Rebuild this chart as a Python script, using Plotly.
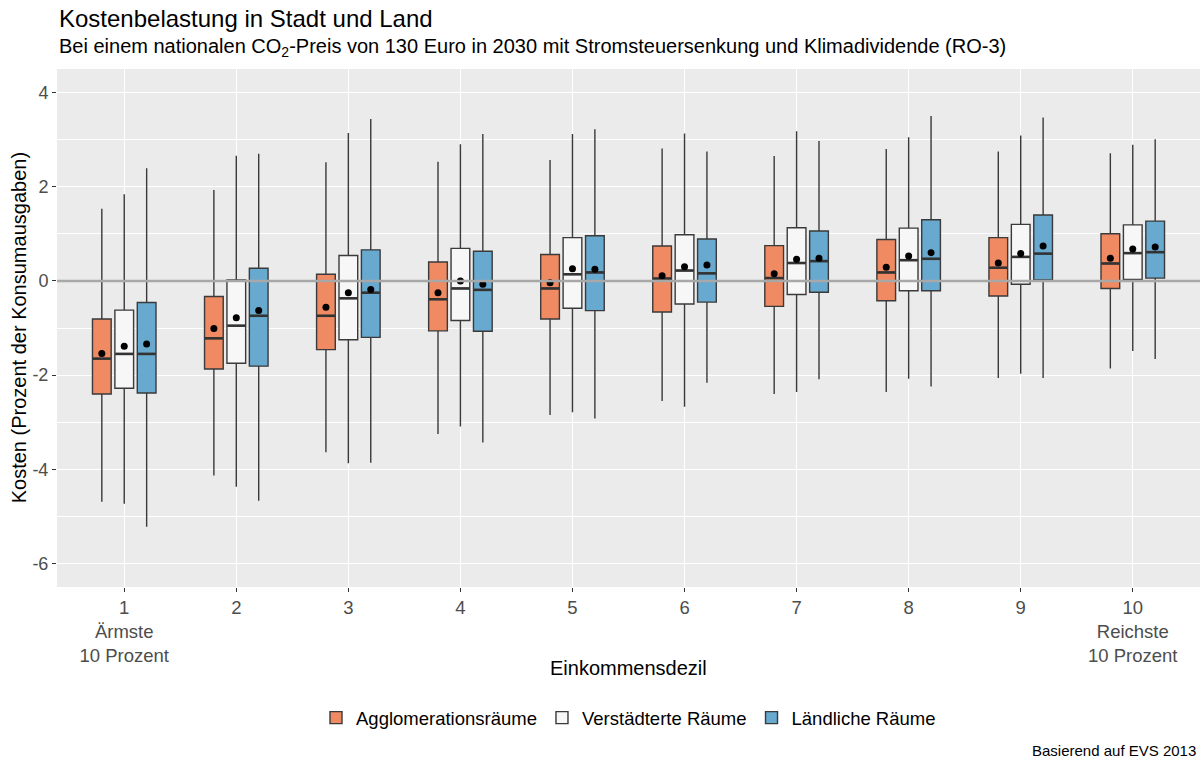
import plotly.graph_objects as go

deciles = [1, 2, 3, 4, 5, 6, 7, 8, 9, 10]
tick_labels = ["1<br>Ärmste<br>10 Prozent", "2", "3", "4", "5", "6", "7", "8", "9",
               "10<br>Reichste<br>10 Prozent"]
y_ticks = [-6, -4, -2, 0, 2, 4]
y_tick_labels = ["-6", "-4", "-2", "0", "2", "4"]
groups = ["Agglomerationsräume", "Verstädterte Räume", "Ländliche Räume"]

# Agglomerationsräume
agg_hi = [1.53, 1.93, 2.52, 2.53, 2.57, 2.81, 2.65, 2.80, 2.75, 2.71]
agg_q3 = [-0.81, -0.33, 0.14, 0.40, 0.56, 0.74, 0.75, 0.88, 0.92, 1.00]
agg_med = [-1.65, -1.22, -0.74, -0.39, -0.16, 0.05, 0.06, 0.18, 0.28, 0.37]
agg_mean = [-1.54, -1.01, -0.56, -0.25, -0.04, 0.11, 0.15, 0.29, 0.38, 0.48]
agg_q1 = [-2.40, -1.87, -1.46, -1.06, -0.81, -0.66, -0.54, -0.42, -0.32, -0.16]
agg_lo = [-4.69, -4.13, -3.64, -3.25, -2.85, -2.55, -2.40, -2.36, -2.06, -1.86]

# Verstädterte Räume
vst_hi = [1.84, 2.66, 3.14, 2.90, 3.12, 3.13, 3.18, 3.05, 3.09, 2.89]
vst_q3 = [-0.62, 0.02, 0.54, 0.69, 0.92, 0.98, 1.13, 1.12, 1.20, 1.19]
vst_med = [-1.55, -0.95, -0.37, -0.16, 0.14, 0.22, 0.38, 0.44, 0.51, 0.59]
vst_mean = [-1.39, -0.78, -0.25, 0.00, 0.26, 0.30, 0.46, 0.53, 0.58, 0.68]
vst_q1 = [-2.28, -1.75, -1.25, -0.84, -0.58, -0.49, -0.29, -0.21, -0.07, 0.03]
vst_lo = [-4.73, -4.37, -3.87, -3.09, -2.79, -2.67, -2.36, -2.08, -1.97, -1.49]

# Ländliche Räume
lnd_hi = [2.39, 2.70, 3.44, 3.12, 3.22, 2.75, 2.97, 3.50, 3.47, 3.01]
lnd_q3 = [-0.46, 0.27, 0.66, 0.63, 0.96, 0.89, 1.06, 1.30, 1.40, 1.27]
lnd_med = [-1.55, -0.74, -0.25, -0.19, 0.18, 0.16, 0.42, 0.47, 0.58, 0.61]
lnd_mean = [-1.34, -0.63, -0.18, -0.07, 0.25, 0.34, 0.48, 0.60, 0.74, 0.72]
lnd_q1 = [-2.38, -1.81, -1.20, -1.07, -0.63, -0.45, -0.24, -0.21, 0.02, 0.06]
lnd_lo = [-5.22, -4.67, -3.86, -3.43, -2.92, -2.16, -2.09, -2.24, -2.06, -1.66]

colors = ["#EF8A62", "#F7F7F7", "#67A9CF"]
stats = [
    (agg_q1, agg_med, agg_q3, agg_lo, agg_hi, agg_mean),
    (vst_q1, vst_med, vst_q3, vst_lo, vst_hi, vst_mean),
    (lnd_q1, lnd_med, lnd_q3, lnd_lo, lnd_hi, lnd_mean),
]
dodge = 0.2
box_w = 0.167
font = "Liberation Sans, Arial, sans-serif"

fig = go.Figure()
for i, (name, col, s) in enumerate(zip(groups, colors, stats)):
    q1, med, q3, lo, hi, mean = s
    xs = [d + (i - 1) * dodge for d in deciles]
    fig.add_trace(go.Box(
        x=xs, q1=q1, median=med, q3=q3, lowerfence=lo, upperfence=hi,
        name=name, width=box_w, whiskerwidth=0,
        fillcolor=col, line=dict(color="#3a3a3a", width=1.4),
        legendgroup=name,
    ))
    # dickere Medianlinie wie bei ggplot
    fig.add_trace(go.Scatter(
        x=xs, y=med, mode="markers",
        marker=dict(symbol="line-ew", size=12.8, line=dict(color="#333333", width=2.6)),
        showlegend=False, legendgroup=name, hoverinfo="skip",
    ))
    fig.add_trace(go.Scatter(
        x=xs, y=mean, mode="markers",
        marker=dict(color="black", size=7),
        showlegend=False, legendgroup=name, hoverinfo="skip",
    ))

# Nulllinie über den Boxen
fig.add_shape(type="line", xref="paper", x0=0, x1=1, y0=0, y1=0,
              line=dict(color="#A8A8A8", width=2.5), layer="above")

fig.update_layout(
    width=1203, height=763,
    margin=dict(l=57, r=3, t=69, b=176),
    plot_bgcolor="#EBEBEB", paper_bgcolor="white",
    font=dict(family=font, color="black"),
    showlegend=True,
    legend=dict(orientation="h", x=0.5, xanchor="center", y=-0.253, yanchor="middle",
                font=dict(size=18.5, color="black"), itemwidth=30),
    xaxis=dict(range=[0.4, 10.6], tickvals=deciles, ticktext=tick_labels,
               showgrid=True, gridcolor="white", gridwidth=1.2, zeroline=False,
               ticks="outside", ticklen=4, tickcolor="#333333",
               tickfont=dict(size=18.5, color="#4D4D4D")),
    yaxis=dict(range=[-6.5, 4.5], tickvals=y_ticks, ticktext=y_tick_labels,
               showgrid=True, gridcolor="white", gridwidth=1.2, zeroline=False,
               minor=dict(tickvals=[-5, -3, -1, 1, 3], showgrid=True,
                          gridcolor="white", gridwidth=0.6),
               ticks="outside", ticklen=4, tickcolor="#333333",
               tickfont=dict(size=18, color="#4D4D4D")),
    annotations=[
        dict(text="Kostenbelastung in Stadt und Land", xref="paper", yref="paper",
             x=0, y=1.098, xanchor="left", yanchor="middle", showarrow=False,
             font=dict(size=24)),
        dict(text="Bei einem nationalen CO<sub>2</sub>-Preis von 130 Euro in 2030 mit "
                  "Stromsteuersenkung und Klimadividende (RO-3)",
             xref="paper", yref="paper", x=0, y=1.042, xanchor="left", yanchor="middle",
             showarrow=False, font=dict(size=20)),
        dict(text="Einkommensdezil", xref="paper", yref="paper", x=0.5, y=-0.157,
             xanchor="center", yanchor="middle", showarrow=False, font=dict(size=20)),
        dict(text="Kosten (Prozent der Konsumausgaben)", xref="paper", yref="paper",
             x=-0.033, y=0.5, xanchor="center", yanchor="middle", textangle=-90,
             showarrow=False, font=dict(size=20)),
        dict(text="Basierend auf EVS 2013", xref="paper", yref="paper", x=0.998,
             y=-0.315, xanchor="right", yanchor="middle", showarrow=False,
             font=dict(size=15)),
    ],
)

fig.write_html("out.html", config={"displayModeBar": False},
               post_script="document.body.style.margin='0';document.body.style.overflow='hidden';")
